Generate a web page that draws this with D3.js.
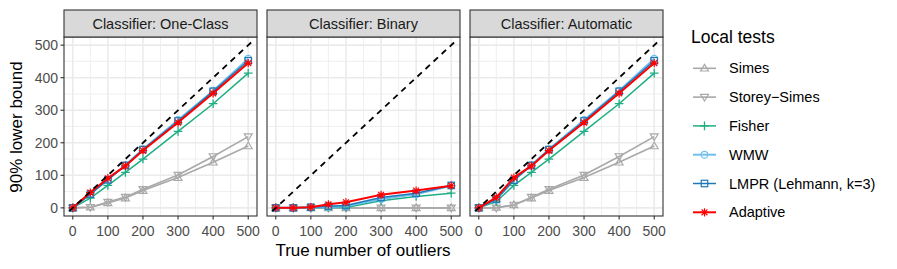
<!DOCTYPE html>
<html>
<head>
<meta charset="utf-8">
<script src="https://cdn.jsdelivr.net/npm/d3@7"></script>
<style>
  body { margin: 0; background: #fff; }
  text { font-family: "Liberation Sans", Arial, sans-serif; }
</style>
</head>
<body>
<svg id="chart" width="897" height="269"></svg>
<script>
// data
var outliers = [0, 50, 100, 150, 200, 300, 400, 500];
var panels = ["Classifier: One-Class", "Classifier: Binary", "Classifier: Automatic"];
var methods = ["Simes", "Storey\u2212Simes", "Fisher", "WMW", "LMPR (Lehmann, k=3)", "Adaptive"];
var xTicks = [0, 100, 200, 300, 400, 500];
var yTicks = [0, 100, 200, 300, 400, 500];

// one row per method, one array per panel
var oneClass = [
  [0, 2, 15, 30, 53, 93, 140, 190],
  [0, 2, 18, 33, 57, 101, 158, 219],
  [0, 30, 69, 109, 150, 235, 320, 414],
  [0, 43, 88, 132, 180, 270, 360, 458],
  [0, 42, 86, 130, 179, 267, 358, 452],
  [0, 47, 91, 129, 176, 262, 352, 445]
];
var binary = [
  [0, 0, 0, 0, 0, 0, 0, 0],
  [0, 0, 0, 0, 0, 0, 0, 0],
  [0, 0, 0, 1, 1, 22, 35, 45],
  [0, 0, 1, 3, 5, 27, 42, 68],
  [0, 0, 2, 5, 7, 32, 45, 69],
  [0, 0, 2, 11, 17, 40, 53, 68]
];
var automatic = [
  [0, 1, 9, 30, 53, 93, 140, 190],
  [0, 0, 9, 33, 57, 101, 158, 219],
  [0, 19, 69, 109, 150, 235, 320, 414],
  [0, 26, 85, 132, 180, 270, 360, 458],
  [0, 26, 85, 130, 179, 267, 358, 452],
  [0, 32, 93, 129, 176, 262, 352, 445]
];
var panelData = [oneClass, binary, automatic];

var colors = ["#a9a9a9", "#a9a9a9", "#1fae84", "#6fc0ee", "#1f78b8", "#ff0000"];
var shapes = ["triUp", "triDown", "plus", "circle", "square", "star"];
var widths = [1.6, 1.6, 1.5, 2, 1.5, 2];

var svg = d3.select("#chart");

var panelLefts = [64, 267, 470];
var panelW = 193, plotTop = 37, plotBottom = 216, stripTop = 10;

var y = d3.scaleLinear().domain([-25, 525]).range([plotBottom, plotTop]);

// draws one marker shape centred at 0,0
function drawShape(g, shape, color) {
  var s = 3.6;
  if (shape == "triUp") {
    g.append("path").attr("d", `M0,${-s * 1.1}L${s * 1.1},${s * 0.75}L${-s * 1.1},${s * 0.75}Z`)
      .attr("fill", "none").attr("stroke", color).attr("stroke-width", 1.2);
  } else if (shape == "triDown") {
    g.append("path").attr("d", `M0,${s * 1.1}L${s * 1.1},${-s * 0.75}L${-s * 1.1},${-s * 0.75}Z`)
      .attr("fill", "none").attr("stroke", color).attr("stroke-width", 1.2);
  } else if (shape == "plus") {
    g.append("path").attr("d", `M${-s * 1.2},0H${s * 1.2}M0,${-s * 1.2}V${s * 1.2}`)
      .attr("stroke", color).attr("stroke-width", 1.3);
  } else if (shape == "circle") {
    g.append("circle").attr("r", s * 0.95)
      .attr("fill", "none").attr("stroke", color).attr("stroke-width", 1.2);
  } else if (shape == "square") {
    g.append("rect").attr("x", -s * 0.9).attr("y", -s * 0.9)
      .attr("width", s * 1.8).attr("height", s * 1.8)
      .attr("fill", "none").attr("stroke", color).attr("stroke-width", 1.2);
  } else if (shape == "star") {
    var a = s * 1.15, b = a * 0.707;
    g.append("path").attr("d", `M${-a},0H${a}M0,${-a}V${a}M${-b},${-b}L${b},${b}M${-b},${b}L${b},${-b}`)
      .attr("stroke", color).attr("stroke-width", 1.2);
  }
}

panels.forEach(function(title, p) {
  var left = panelLefts[p];
  var x = d3.scaleLinear().domain([-25, 525]).range([left, left + panelW]);
  var g = svg.append("g");

  // grid
  var minor = [50, 150, 250, 350, 450];
  g.selectAll(".gxm").data(minor).enter().append("line")
    .attr("x1", d => x(d)).attr("x2", d => x(d))
    .attr("y1", plotTop).attr("y2", plotBottom)
    .attr("stroke", "#ebebeb").attr("stroke-width", 0.8);
  g.selectAll(".gym").data(minor).enter().append("line")
    .attr("y1", d => y(d)).attr("y2", d => y(d))
    .attr("x1", left).attr("x2", left + panelW)
    .attr("stroke", "#ebebeb").attr("stroke-width", 0.8);
  g.selectAll(".gx").data(xTicks).enter().append("line")
    .attr("x1", d => x(d)).attr("x2", d => x(d))
    .attr("y1", plotTop).attr("y2", plotBottom)
    .attr("stroke", "#ebebeb").attr("stroke-width", 1.6);
  g.selectAll(".gy").data(yTicks).enter().append("line")
    .attr("y1", d => y(d)).attr("y2", d => y(d))
    .attr("x1", left).attr("x2", left + panelW)
    .attr("stroke", "#ebebeb").attr("stroke-width", 1.6);

  var clip = svg.append("clipPath").attr("id", "clip" + p)
    .append("rect").attr("x", left).attr("y", plotTop)
    .attr("width", panelW).attr("height", plotBottom - plotTop);
  var plot = g.append("g").attr("clip-path", `url(#clip${p})`);

  var line = d3.line().x(d => x(d[0])).y(d => y(d[1]));
  panelData[p].forEach(function(vals, m) {
    var pts = outliers.map((o, i) => [o, vals[i]]);
    plot.append("path").datum(pts).attr("d", line)
      .attr("fill", "none").attr("stroke", colors[m]).attr("stroke-width", widths[m]);
    pts.forEach(function(pt) {
      var mg = plot.append("g").attr("transform", `translate(${x(pt[0])},${y(pt[1])})`);
      drawShape(mg, shapes[m], colors[m]);
    });
  });

  // y = x reference
  plot.append("path").datum([[-10, -10], [510, 510]]).attr("d", line)
    .attr("fill", "none").attr("stroke", "#000").attr("stroke-width", 1.8)
    .attr("stroke-dasharray", "6,5");

  // panel border
  g.append("rect").attr("x", left).attr("y", plotTop)
    .attr("width", panelW).attr("height", plotBottom - plotTop)
    .attr("fill", "none").attr("stroke", "#333333").attr("stroke-width", 1.1);

  // strip
  g.append("rect").attr("x", left).attr("y", stripTop)
    .attr("width", panelW).attr("height", plotTop - stripTop)
    .attr("fill", "#d9d9d9").attr("stroke", "#333333").attr("stroke-width", 1.1);
  g.append("text").attr("x", left + panelW / 2).attr("y", 29)
    .attr("text-anchor", "middle").attr("font-size", "14.5px").attr("fill", "#1a1a1a")
    .text(title);

  // x axis
  var xAxis = g.append("g");
  xTicks.forEach(function(t) {
    xAxis.append("line").attr("x1", x(t)).attr("x2", x(t))
      .attr("y1", plotBottom).attr("y2", plotBottom + 3.5)
      .attr("stroke", "#333333").attr("stroke-width", 1.1);
    xAxis.append("text").attr("x", x(t)).attr("y", 236)
      .attr("text-anchor", "middle").attr("font-size", "14px").attr("fill", "#4d4d4d")
      .text(t);
  });

  // y axis only on the first panel
  if (p == 0) {
    yTicks.forEach(function(t) {
      g.append("line").attr("x1", left - 3.5).attr("x2", left)
        .attr("y1", y(t)).attr("y2", y(t))
        .attr("stroke", "#333333").attr("stroke-width", 1.1);
      g.append("text").attr("x", left - 6).attr("y", y(t)).attr("dy", "0.36em")
        .attr("text-anchor", "end").attr("font-size", "14px").attr("fill", "#4d4d4d")
        .text(t);
    });
  }
});

// axis titles
svg.append("text").attr("x", 363).attr("y", 256)
  .attr("text-anchor", "middle").attr("font-size", "17px").attr("fill", "#000")
  .text("True number of outliers");
svg.append("text").attr("transform", "translate(22,127) rotate(-90)")
  .attr("text-anchor", "middle").attr("font-size", "17px").attr("fill", "#000")
  .text("90% lower bound");

// legend
var legend = svg.append("g");
legend.append("text").attr("x", 691).attr("y", 43)
  .attr("font-size", "17.5px").attr("fill", "#000").text("Local tests");
methods.forEach(function(name, m) {
  var cy = 68.3 + m * 28.8;
  legend.append("line").attr("x1", 693).attr("x2", 716)
    .attr("y1", cy).attr("y2", cy)
    .attr("stroke", colors[m]).attr("stroke-width", widths[m]);
  var mg = legend.append("g").attr("transform", `translate(704.5,${cy})`);
  drawShape(mg, shapes[m], colors[m]);
  legend.append("text").attr("x", 729).attr("y", cy + 5)
    .attr("font-size", "14.5px").attr("fill", "#000").text(name);
});
</script>
</body>
</html>
